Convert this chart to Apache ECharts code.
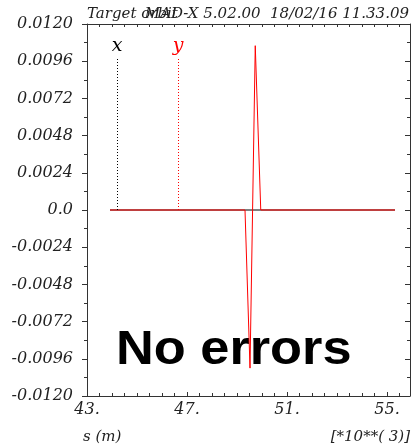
<!DOCTYPE html>
<html>
<head>
<meta charset="utf-8">
<script src="https://cdn.jsdelivr.net/npm/echarts@6/dist/echarts.min.js"></script>
<style>
  html, body { margin: 0; padding: 0; background: #fff; }
  #main { width: 411px; height: 447px; }
</style>
</head>
<body>
<div id="main"></div>
<script>
// data (s in km, orbit in m)
var xRange = [43, 55.92];
var yRange = [-0.012, 0.012];
var orbitX = [[43.92, 0], [55.32, 0]];
var orbitY = [[43.92, 0], [49.32, 0], [49.52, -0.0102], [49.73, 0.0106], [49.95, 0], [55.32, 0]];
var markX = 44.2;   // where the "x" label sits
var markY = 46.64;  // where the "y" label sits
var markTop = 0.0098;

var serif = 'DejaVu Serif';
var chart = echarts.init(document.getElementById('main'));

function vLine(pos, color, name) {
    return {
        silent: true,
        symbol: ['none', 'none'],
        lineStyle: { color: color, type: [1, 2], width: 1 },
        label: {
            show: true, position: 'end', formatter: name, distance: 3,
            fontFamily: serif, fontStyle: 'italic', fontSize: 19, color: color
        },
        data: [[{ coord: [pos, 0] }, { coord: [pos, markTop] }]]
    };
}

var option = {
    animation: false,
    backgroundColor: '#fff',
    grid: { left: 87, right: 1, top: 24, bottom: 51 },
    graphic: [
        {
            type: 'text', x: 87, y: 14, z: 0,
            style: { text: 'Target orbit', font: 'italic 15px "DejaVu Serif"', fill: '#222', verticalAlign: 'middle' }
        },
        {
            type: 'text', x: 409, y: 14, z: 0,
            style: { text: 'MAD-X 5.02.00  18/02/16 11.33.09', font: 'italic 15px "DejaVu Serif"', fill: '#222', align: 'right', verticalAlign: 'middle' }
        },
        {
            type: 'text', x: 83, y: 437,
            style: { text: 's (m)', font: 'italic 15px "DejaVu Serif"', fill: '#222', verticalAlign: 'middle' }
        },
        {
            type: 'text', x: 410, y: 437,
            style: { text: '[*10**( 3)]', font: 'italic 15px "DejaVu Serif"', fill: '#222', align: 'right', verticalAlign: 'middle' }
        },
        {
            type: 'text', x: 116, y: 351, scaleX: 1.09, z: 0,
            style: { text: 'No errors', font: 'bold 48px "Liberation Sans"', fill: '#000', verticalAlign: 'middle' }
        }
    ],
    xAxis: [
        {
            type: 'value', position: 'bottom', min: xRange[0], max: xRange[1], interval: 4,
            axisLine: { onZero: false, lineStyle: { color: '#333', width: 1 } },
            axisTick: { inside: true, length: 4, lineStyle: { color: '#333' } },
            minorTick: { show: true, splitNumber: 8, length: 3, lineStyle: { color: '#333' } },
            splitLine: { show: false },
            axisLabel: {
                formatter: function (v) { return v + '.'; },
                fontFamily: serif, fontStyle: 'italic', fontSize: 16, color: '#222', margin: 6
            }
        },
        {
            type: 'value', position: 'top', min: xRange[0], max: xRange[1], interval: 0.5,
            axisLine: { onZero: false, lineStyle: { color: '#333', width: 1 } },
            axisTick: { inside: true, length: 3, lineStyle: { color: '#333' } },
            splitLine: { show: false },
            axisLabel: { show: false }
        }
    ],
    yAxis: [
        {
            type: 'value', position: 'left', min: yRange[0], max: yRange[1], interval: 0.0024,
            axisLine: { show: true, onZero: false, lineStyle: { color: '#333', width: 1 } },
            axisTick: { show: true, length: 5, lineStyle: { color: '#333' } },
            minorTick: { show: true, splitNumber: 2, length: 3, lineStyle: { color: '#333' } },
            splitLine: { show: false },
            axisLabel: {
                formatter: function (v) { return Math.abs(v) < 1e-9 ? '0.0' : v.toFixed(4); },
                fontFamily: serif, fontStyle: 'italic', fontSize: 16, color: '#222', margin: 14
            }
        },
        {
            type: 'value', position: 'right', min: yRange[0], max: yRange[1], interval: 0.0024,
            axisLine: { show: true, onZero: false, lineStyle: { color: '#333', width: 1 } },
            axisTick: { show: true, inside: true, length: 5, lineStyle: { color: '#333' } },
            minorTick: { show: true, splitNumber: 2, length: 3, lineStyle: { color: '#333' } },
            splitLine: { show: false },
            axisLabel: { show: false }
        }
    ],
    series: [
        {
            name: 'x', type: 'line', data: orbitX, showSymbol: false, z: 2,
            lineStyle: { color: '#000', width: 1 },
            markLine: vLine(markX, '#000', 'x')
        },
        {
            name: 'y', type: 'line', data: orbitY, showSymbol: false, z: 3,
            lineStyle: { color: '#ff0000', width: 1 },
            markLine: vLine(markY, '#ff0000', 'y')
        }
    ]
};

chart.setOption(option);
</script>
</body>
</html>
